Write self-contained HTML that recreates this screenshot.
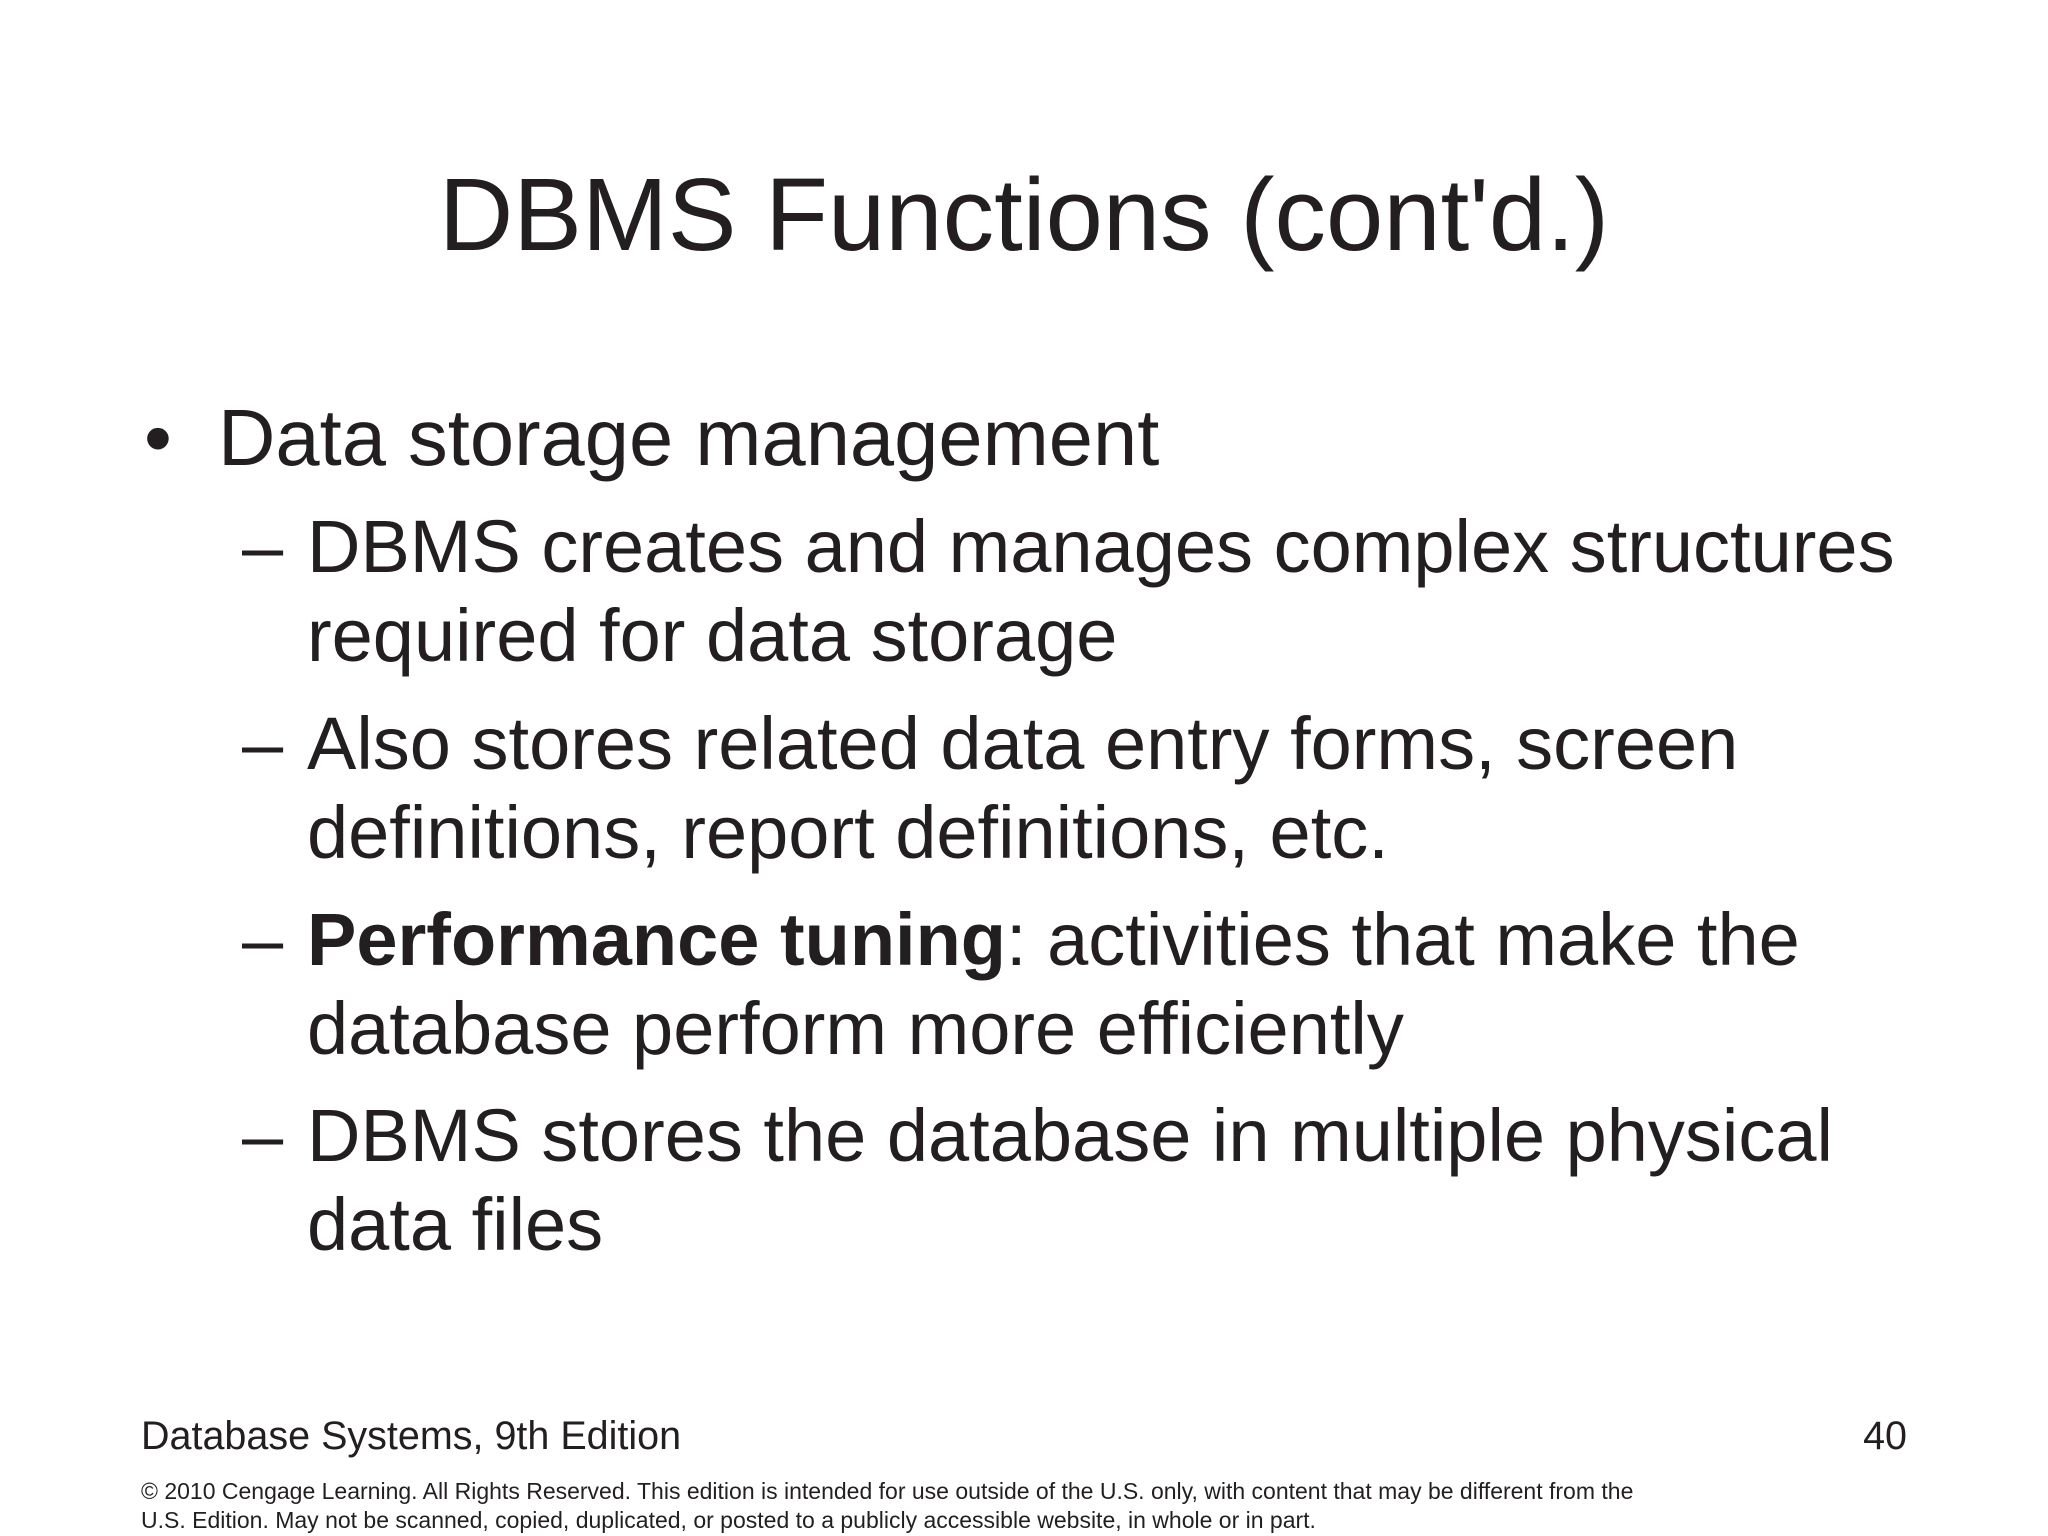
<!DOCTYPE html>
<html><head><meta charset="utf-8"><style>
html,body{margin:0;padding:0;}
body{width:2048px;height:1536px;background:#fff;position:relative;overflow:hidden;font-family:"Liberation Sans",Arial,sans-serif;color:#231f20;}
.t{position:absolute;line-height:1;white-space:nowrap;}
.title{font-size:103px;left:0;width:2048px;text-align:center;top:163px;padding-left:0px;}
.b{font-size:79.5px;}
.s{font-size:74px;}
.f{font-size:39.5px;}
.c{font-size:23px;}
</style></head><body>
<div class="t title">DBMS Functions (cont'd.)</div>
<div class="t b" style="left:144px;top:398px">•</div>
<div class="t b" style="left:218px;top:398px">Data storage management</div>
<div class="t s" style="left:242px;top:510px">–</div>
<div class="t s" style="left:307px;top:510px">DBMS creates and manages complex structures</div>
<div class="t s" style="left:307px;top:599px">required for data storage</div>
<div class="t s" style="left:242px;top:707px">–</div>
<div class="t s" style="left:307px;top:707px">Also stores related data entry forms, screen</div>
<div class="t s" style="left:307px;top:796px">definitions, report definitions, etc.</div>
<div class="t s" style="left:242px;top:903px">–</div>
<div class="t s" style="left:307px;top:903px"><b>Performance tuning</b>: activities that make the</div>
<div class="t s" style="left:307px;top:992px">database perform more efficiently</div>
<div class="t s" style="left:242px;top:1099px">–</div>
<div class="t s" style="left:307px;top:1099px">DBMS stores the database in multiple physical</div>
<div class="t s" style="left:307px;top:1188px">data files</div>
<div class="t f" style="left:141px;top:1417px">Database Systems, 9th Edition</div>
<div class="t f" style="right:141px;top:1417px">40</div>
<div class="t c" style="left:141px;top:1480px">© 2010 Cengage Learning. All Rights Reserved. This edition is intended for use outside of the U.S. only, with content that may be different from the</div>
<div class="t c" style="left:141px;top:1509px">U.S. Edition. May not be scanned, copied, duplicated, or posted to a publicly accessible website, in whole or in part.</div>
</body></html>
